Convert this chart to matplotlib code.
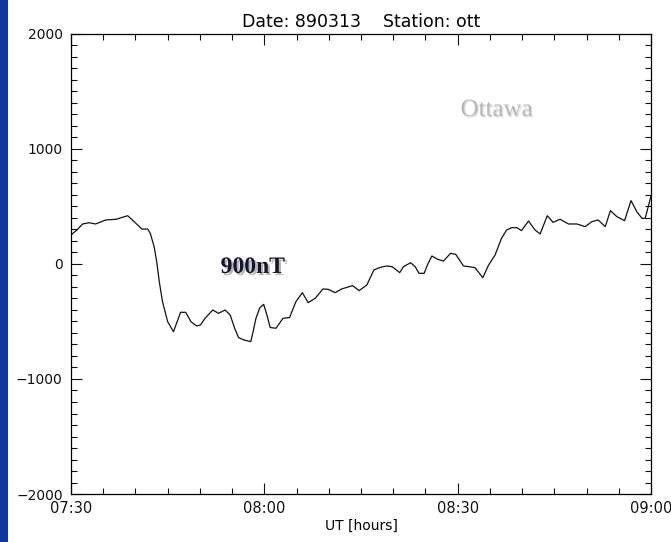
''' Magnetometer trace, Ottawa station, 13 March 1989 storm. '''
import matplotlib
matplotlib.use('Agg')
import matplotlib.pyplot as plt
import matplotlib.patheffects as pe
from matplotlib.ticker import MultipleLocator, FixedLocator, FixedFormatter
from matplotlib.patches import Rectangle

### Data (minutes after 07:30 UT, field in nT)
minutes = [0, 1.0, 1.8, 2.8, 3.8, 5.4, 7.0, 7.8, 8.8, 9.8, 11.0, 11.9, 12.3, 12.9,
           13.3, 13.7, 14.2, 15.0, 15.9, 17.0, 17.8, 18.6, 19.5, 20.1, 20.8, 22.0,
           22.9, 23.9, 24.7, 25.4, 26.0, 26.8, 27.9, 28.2, 28.7, 29.3, 29.9, 30.4,
           30.9, 31.8, 32.9, 33.9, 34.9, 35.9, 36.8, 37.9, 39.1, 39.9, 41.0, 42.0,
           43.7, 44.7, 45.9, 47.0, 48.0, 49.0, 49.8, 50.3, 51.0, 51.6, 52.7, 53.4,
           54.0, 54.8, 55.3, 56.0, 56.9, 57.8, 58.9, 59.7, 60.9, 61.7, 62.7, 63.9,
           64.8, 65.8, 66.8, 67.6, 68.4, 69.2, 69.9, 71.0, 72.0, 72.8, 73.9, 74.8,
           75.9, 77.2, 78.5, 79.8, 80.8, 81.8, 82.9, 83.7, 84.7, 85.9, 86.9, 87.8,
           88.6, 89.1, 89.5, 90.0]
field_nt = [252, 300, 348, 359, 348, 383, 389, 403, 420, 368, 304, 304, 267, 150,
            20, -154, -328, -502, -589, -420, -420, -501, -539, -530, -472, -400,
            -429, -400, -443, -559, -640, -660, -675, -603, -472, -380, -351, -443,
            -552, -559, -472, -466, -328, -249, -336, -298, -217, -220, -249, -217,
            -188, -232, -183, -52, -29, -17, -23, -43, -75, -23, 11, -23,
            -81, -81, -9, 70, 41, 26, 93, 84, -17, -23, -32, -119,
            -9, 78, 223, 296, 316, 316, 290, 374, 296, 261, 420, 362,
            389, 348, 348, 325, 368, 383, 325, 464, 412, 377, 551, 455,
            397, 397, 484, 591]

tick_minutes = [0, 30, 60, 90]
tick_labels = ['07:30', '08:00', '08:30', '09:00']
title = 'Date: 890313    Station: ott'

### Figure
fig = plt.figure(figsize=(6.71, 5.42), dpi=100)
fig.patches.append(Rectangle((0, 0), 8 / 671, 1, transform=fig.transFigure,
                             facecolor='#10389c', edgecolor='none'))
ax = fig.add_axes([71 / 671, 1 - 494 / 542, 580 / 671, 460 / 542])

ax.plot(minutes, field_nt, color='#111111', linewidth=0.9)

ax.set_xlim(0, 90)
ax.set_ylim(-2000, 2000)
ax.xaxis.set_major_locator(FixedLocator(tick_minutes))
ax.xaxis.set_major_formatter(FixedFormatter(tick_labels))
ax.xaxis.set_minor_locator(MultipleLocator(5))
ax.yaxis.set_major_locator(MultipleLocator(1000))
ax.yaxis.set_minor_locator(MultipleLocator(100))

ax.tick_params(which='both', direction='in', top=True, right=True,
               labelsize=10, width=0.8, colors='#111111')
ax.tick_params(which='major', length=8)
ax.tick_params(which='minor', length=4.3)
ax.tick_params(axis='y', pad=6)
ax.tick_params(axis='x', pad=5, labelsize=10.5)
for s in ax.spines.values():
    s.set_linewidth(0.9)

ax.set_title(title, fontsize=12.5, pad=5)
ax.set_xlabel('UT [hours]', fontsize=10, labelpad=2)

### Annotations with soft shadows
ax.text(28.2, -30, '900nT', fontsize=17, fontweight='bold', family='Liberation Serif',
        color='#15152e', ha='center', va='center',
        path_effects=[pe.SimplePatchShadow(offset=(1.5, -1.5), shadow_rgbFace='#888888', alpha=0.6),
                      pe.Normal()])
ax.text(66, 1339, 'Ottawa', fontsize=18, family='Liberation Serif',
        color='#b8b8b8', ha='center', va='center',
        path_effects=[pe.SimplePatchShadow(offset=(1, -1), shadow_rgbFace='#d8d8d8', alpha=0.8),
                      pe.Normal()])

fig.savefig('out.png', dpi=100)
